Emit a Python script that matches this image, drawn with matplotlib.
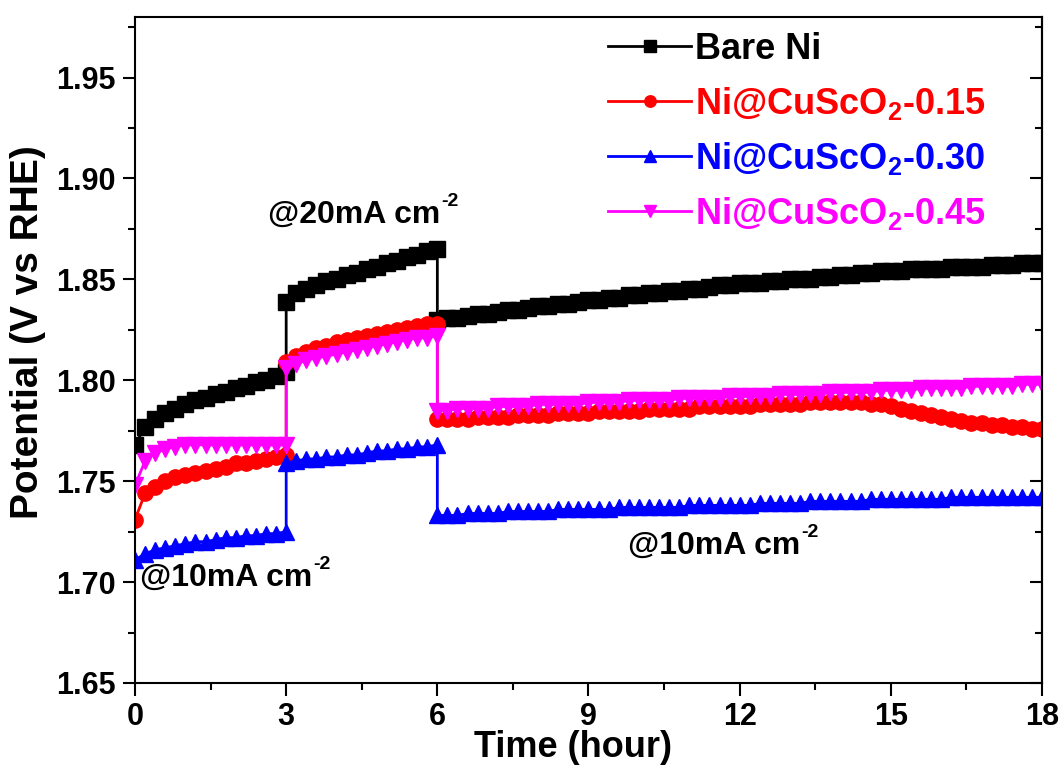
import numpy as np
import matplotlib
matplotlib.use("Agg")
import matplotlib.pyplot as plt
from matplotlib.ticker import MultipleLocator

plt.rcParams['font.family'] = ['Liberation Sans', 'DejaVu Sans']
plt.rcParams['font.weight'] = 'bold'
plt.rcParams['mathtext.fontset'] = 'custom'
plt.rcParams['mathtext.rm'] = 'Liberation Sans:bold'
plt.rcParams['mathtext.it'] = 'Liberation Sans:bold'
plt.rcParams['mathtext.bf'] = 'Liberation Sans:bold'

# time grid of the three current steps (hours), 0.2 h sampling
t_seg1 = np.round(np.arange(0, 3.01, 0.2), 1)
t_seg2 = np.round(np.arange(3, 6.01, 0.2), 1)
t_seg3 = np.round(np.arange(6, 18.01, 0.2), 1)
time = np.concatenate([t_seg1, t_seg2, t_seg3])

# Bare Ni
bare_1 = [1.768, 1.777, 1.781, 1.784, 1.786, 1.788, 1.790, 1.791, 1.793, 1.794,
          1.796, 1.797, 1.799, 1.800, 1.802, 1.804]
bare_2 = [1.839, 1.843, 1.845, 1.847, 1.849, 1.850, 1.852, 1.853, 1.855, 1.856,
          1.858, 1.859, 1.861, 1.862, 1.864, 1.865]
bare_3 = [1.830, 1.831, 1.831, 1.832, 1.833, 1.833, 1.834, 1.835, 1.835, 1.836,
          1.837, 1.837, 1.838, 1.838, 1.839, 1.840, 1.840, 1.841, 1.841, 1.842,
          1.842, 1.843, 1.843, 1.844, 1.844, 1.845, 1.845, 1.846, 1.847, 1.847,
          1.848, 1.848, 1.848, 1.849, 1.849, 1.850, 1.850, 1.850, 1.851, 1.851,
          1.852, 1.852, 1.853, 1.853, 1.854, 1.854, 1.854, 1.855, 1.855, 1.855,
          1.855, 1.856, 1.856, 1.856, 1.856, 1.857, 1.857, 1.857, 1.858, 1.858,
          1.858]

# Ni@CuScO2-0.15
ni15_1 = [1.731, 1.744, 1.747, 1.750, 1.752, 1.753, 1.754, 1.755, 1.756, 1.757,
          1.759, 1.759, 1.760, 1.761, 1.762, 1.763]
ni15_2 = [1.809, 1.812, 1.814, 1.816, 1.817, 1.819, 1.820, 1.821, 1.822, 1.823,
          1.824, 1.825, 1.826, 1.827, 1.828, 1.828]
ni15_3 = [1.781, 1.781, 1.781, 1.781, 1.782, 1.782, 1.782, 1.782, 1.783, 1.783,
          1.783, 1.783, 1.784, 1.784, 1.784, 1.784, 1.785, 1.785, 1.785, 1.785,
          1.785, 1.786, 1.786, 1.786, 1.786, 1.786, 1.787, 1.787, 1.787, 1.787,
          1.787, 1.787, 1.788, 1.788, 1.788, 1.788, 1.788, 1.789, 1.789, 1.789,
          1.789, 1.789, 1.789, 1.788, 1.788, 1.787, 1.786, 1.785, 1.784, 1.783,
          1.782, 1.781, 1.780, 1.779, 1.779, 1.778, 1.778, 1.777, 1.777, 1.776,
          1.776]

# Ni@CuScO2-0.30
ni30_1 = [1.711, 1.714, 1.716, 1.717, 1.718, 1.719, 1.720, 1.720, 1.721, 1.722,
          1.722, 1.723, 1.723, 1.724, 1.724, 1.725]
ni30_2 = [1.759, 1.760, 1.761, 1.761, 1.762, 1.762, 1.763, 1.763, 1.764, 1.765,
          1.765, 1.766, 1.766, 1.767, 1.767, 1.768]
ni30_3 = [1.733, 1.733, 1.733, 1.734, 1.734, 1.734, 1.734, 1.735, 1.735, 1.735,
          1.735, 1.735, 1.736, 1.736, 1.736, 1.736, 1.736, 1.736, 1.737, 1.737,
          1.737, 1.737, 1.737, 1.737, 1.737, 1.738, 1.738, 1.738, 1.738, 1.738,
          1.738, 1.738, 1.739, 1.739, 1.739, 1.739, 1.739, 1.740, 1.740, 1.740,
          1.740, 1.740, 1.740, 1.741, 1.741, 1.741, 1.741, 1.741, 1.741, 1.741,
          1.741, 1.742, 1.742, 1.742, 1.742, 1.742, 1.742, 1.742, 1.742, 1.742,
          1.742]

# Ni@CuScO2-0.45
ni45_1 = [1.748, 1.760, 1.764, 1.766, 1.767, 1.768, 1.768, 1.768, 1.768, 1.768,
          1.768, 1.768, 1.768, 1.768, 1.768, 1.768]
ni45_2 = [1.806, 1.808, 1.810, 1.811, 1.812, 1.813, 1.814, 1.815, 1.816, 1.817,
          1.818, 1.819, 1.820, 1.821, 1.821, 1.822]
ni45_3 = [1.785, 1.785, 1.786, 1.786, 1.786, 1.786, 1.787, 1.787, 1.787, 1.787,
          1.788, 1.788, 1.788, 1.788, 1.788, 1.789, 1.789, 1.789, 1.789, 1.790,
          1.790, 1.790, 1.790, 1.790, 1.791, 1.791, 1.791, 1.791, 1.791, 1.792,
          1.792, 1.792, 1.792, 1.792, 1.793, 1.793, 1.793, 1.793, 1.793, 1.794,
          1.794, 1.794, 1.794, 1.794, 1.795, 1.795, 1.795, 1.795, 1.796, 1.796,
          1.796, 1.796, 1.796, 1.797, 1.797, 1.797, 1.797, 1.797, 1.798, 1.798,
          1.798]

series = [
    ('Bare Ni', bare_1 + bare_2 + bare_3, 'black', 's'),
    ('Ni@CuScO$_2$-0.15', ni15_1 + ni15_2 + ni15_3, 'red', 'o'),
    ('Ni@CuScO$_2$-0.30', ni30_1 + ni30_2 + ni30_3, 'blue', '^'),
    ('Ni@CuScO$_2$-0.45', ni45_1 + ni45_2 + ni45_3, 'magenta', 'v'),
]

# current-density labels: (x, y, text)
notes = [(2.64, 1.882, '@20mA cm'), (0.1, 1.702, '@10mA cm'),
         (9.78, 1.718, '@10mA cm')]

fig = plt.figure(figsize=(10.64, 7.72), dpi=100)
ax = fig.add_axes([0.1269, 0.1153, 0.8524, 0.8627])

for label, vals, col, mk in series:
    ax.plot(time, vals, color=col, marker=mk, markersize=11, linewidth=2,
            label=label)

ax.set_xlim(0, 18)
ax.set_ylim(1.65, 1.98)
ax.xaxis.set_major_locator(MultipleLocator(3))
ax.xaxis.set_minor_locator(MultipleLocator(1.5))
ax.yaxis.set_major_locator(MultipleLocator(0.05))
ax.yaxis.set_minor_locator(MultipleLocator(0.025))
ax.yaxis.set_major_formatter(matplotlib.ticker.FormatStrFormatter('%.2f'))

for s in ax.spines.values():
    s.set_linewidth(1.5)
ax.tick_params(which='major', direction='out', length=9, width=1.5,
               labelsize=22, pad=5)
ax.tick_params(which='minor', direction='out', length=5, width=1.5)

right = ax.secondary_yaxis('right')
right.yaxis.set_major_locator(MultipleLocator(0.05))
right.yaxis.set_minor_locator(MultipleLocator(0.025))
right.tick_params(which='major', direction='in', length=9, width=1.5,
                  labelright=False)
right.tick_params(which='minor', direction='in', length=5, width=1.5)
right.spines['right'].set_linewidth(1.5)

ax.set_xlabel('Time (hour)', fontsize=26, fontweight='bold')
ax.set_ylabel('Potential (V vs RHE)', fontsize=28, fontweight='bold')
ax.xaxis.set_label_coords(0.483, -0.07)
ax.yaxis.set_label_coords(-0.098, 0.527)

for x, y, s in notes:
    txt = ax.text(x, y, s, fontsize=23, fontweight='bold', ha='left', va='center')
    ax.annotate('-2', xy=(1.0, 1.0), xycoords=txt, xytext=(1, -1),
                textcoords='offset points', fontsize=14, fontweight='bold',
                ha='left', va='center')

leg = ax.legend(loc='upper left', bbox_to_anchor=(0.502, 1.005), frameon=False,
                fontsize=26, handlelength=2.3, handletextpad=0.1,
                labelspacing=0.5, borderpad=0, labelcolor='linecolor',
                markerscale=0.75)

fig.savefig('out.png', dpi=100)
